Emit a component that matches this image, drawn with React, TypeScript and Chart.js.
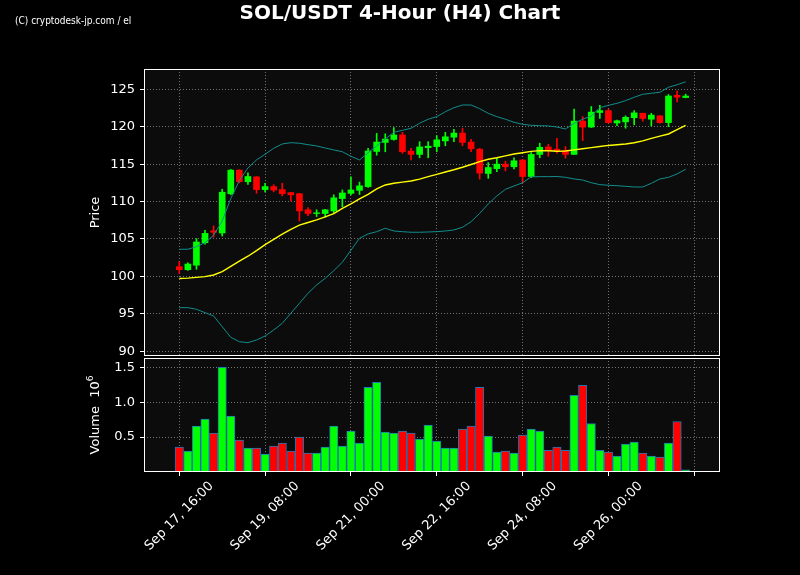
import React, { useEffect, useRef } from "react";
import { Chart, registerables } from "chart.js";

Chart.register(...registerables);

// ---- Data (4-hour candles, starting Sep 17 16:00) ----
const opens = [
  101.3, 100.9, 101.5, 104.5, 106.1, 105.8, 111.05, 114.2, 112.65, 113.3,
  111.6, 112.0, 111.6, 111.2, 111.05, 108.9, 108.4, 108.4, 108.75, 110.4,
  111.1, 111.5, 112.0, 116.7, 117.9, 118.3, 118.9, 116.75, 116.3, 117.2,
  117.35, 118.1, 118.6, 119.15, 117.95, 117.0, 113.75, 114.4, 115.0, 114.65,
  115.55, 113.35, 116.3, 117.3, 117.0, 116.85, 116.3, 120.75, 119.95, 121.9,
  122.15, 120.5, 120.65, 121.2, 121.8, 121.0, 121.45, 120.55, 124.2, 123.9,
];
const highs = [
  102.0, 101.8, 105.05, 106.15, 106.75, 111.65, 114.3, 114.25, 113.85, 113.35,
  112.45, 112.25, 112.45, 111.25, 111.1, 109.2, 108.9, 108.95, 110.9, 111.55,
  113.3, 112.6, 117.1, 119.1, 119.05, 119.9, 119.25, 117.1, 118.0, 118.0,
  118.8, 119.25, 119.65, 119.8, 118.3, 117.1, 115.2, 115.8, 115.4, 115.85,
  115.6, 116.55, 117.8, 117.65, 118.45, 117.35, 122.35, 121.35, 122.7, 122.85,
  122.35, 120.9, 121.45, 122.15, 121.8, 121.8, 121.5, 124.3, 124.8, 124.35,
];
const lows = [
  100.4, 100.8, 100.95, 104.3, 105.25, 105.4, 110.9, 112.5, 112.3, 111.1,
  111.3, 111.3, 110.75, 110.1, 107.4, 108.1, 108.0, 107.9, 108.45, 109.3,
  110.9, 110.95, 111.9, 116.2, 116.65, 118.2, 116.45, 115.55, 115.85, 115.85,
  116.65, 117.45, 118.0, 117.45, 116.65, 113.0, 113.1, 114.0, 114.1, 114.35,
  112.5, 113.2, 115.85, 116.05, 116.45, 115.8, 116.3, 118.15, 119.9, 121.1,
  120.5, 120.15, 119.8, 120.25, 120.75, 120.1, 120.46, 120.0, 123.3, 123.85,
];
const closes = [
  100.9, 101.65, 104.6, 105.75, 105.9, 111.25, 114.2, 112.65, 113.35, 111.6,
  112.0, 111.55, 111.05, 110.9, 108.75, 108.4, 108.5, 108.9, 110.5, 111.15,
  111.55, 112.1, 116.75, 117.95, 118.35, 118.9, 116.65, 116.3, 117.3, 117.4,
  118.25, 118.65, 119.15, 117.9, 117.05, 113.8, 114.55, 115.0, 114.65, 115.45,
  113.35, 116.3, 117.25, 116.85, 116.8, 116.3, 120.75, 119.95, 121.95, 122.15,
  120.55, 120.8, 121.25, 121.85, 121.1, 121.55, 120.55, 124.1, 123.95, 124.1,
];
// volume in units of 10^6
const volumes = [
  0.357, 0.3, 0.657, 0.757, 0.557, 1.5, 0.8, 0.457, 0.343, 0.343,
  0.257, 0.371, 0.414, 0.3, 0.5, 0.271, 0.271, 0.357, 0.657, 0.371,
  0.586, 0.414, 1.214, 1.286, 0.571, 0.557, 0.586, 0.557, 0.471, 0.671,
  0.443, 0.343, 0.343, 0.614, 0.657, 1.214, 0.514, 0.286, 0.3, 0.271,
  0.529, 0.614, 0.586, 0.309, 0.357, 0.309, 1.1, 1.243, 0.695, 0.309,
  0.286, 0.229, 0.4, 0.429, 0.271, 0.229, 0.214, 0.414, 0.724, 0.03,
];
const sma = [
  99.72, 99.78, 99.87, 99.97, 100.19, 100.65, 101.35, 102.05, 102.7, 103.45,
  104.25, 104.95, 105.65, 106.3, 106.85, 107.2, 107.55, 107.95, 108.4, 109.1,
  109.7, 110.35, 110.97, 111.7, 112.22, 112.44, 112.6, 112.75, 113.0, 113.33,
  113.64, 113.95, 114.25, 114.58, 114.95, 115.33, 115.65, 115.86, 116.1, 116.36,
  116.53, 116.7, 116.8, 116.78, 116.72, 116.75, 116.9, 117.05, 117.2, 117.35,
  117.5, 117.6, 117.7, 117.85, 118.1, 118.45, 118.75, 119.03, 119.6, 120.19,
];
const upperBand = [
  103.63, 103.63, 103.97, 104.51, 105.5, 107.4, 110.4, 112.8, 114.5, 115.56,
  116.32, 117.12, 117.69, 117.87, 117.79, 117.6, 117.43, 117.16, 116.9, 116.66,
  116.05, 115.56, 116.53, 117.43, 118.36, 119.26, 119.52, 119.79, 120.46, 121.0,
  121.34, 122.0, 122.54, 122.9, 122.9, 122.41, 121.79, 121.34, 121.0, 120.59,
  120.32, 120.19, 120.14, 120.1, 119.96, 119.7, 120.45, 121.0, 121.43, 122.54,
  122.86, 123.13, 123.48, 123.93, 124.33, 124.47, 124.6, 125.27, 125.61, 126.0,
];
const lowerBand = [
  95.83, 95.83, 95.61, 95.16, 94.72, 93.29, 91.87, 91.28, 91.15, 91.51,
  92.04, 92.85, 93.74, 95.08, 96.41, 97.75, 98.86, 99.75, 100.77, 101.9,
  103.5, 105.1, 105.67, 105.98, 106.43, 106.07, 105.98, 105.9, 105.9, 105.94,
  105.98, 106.07, 106.21, 106.57, 107.31, 108.43, 109.68, 110.75, 111.64, 112.08,
  112.52, 113.3, 113.33, 113.33, 113.35, 113.24, 113.02, 112.88, 112.52, 112.26,
  112.18, 112.12, 112.04, 111.95, 111.95, 112.44, 113.02, 113.24, 113.69, 114.31,
];
const xTickIdx = [0, 10, 20, 30, 40, 50, 60];
const xTickLabels = [
  "Sep 17, 16:00",
  "Sep 19, 08:00",
  "Sep 21, 00:00",
  "Sep 22, 16:00",
  "Sep 24, 08:00",
  "Sep 26, 00:00",
  "",
];
const priceTicks = [90, 95, 100, 105, 110, 115, 120, 125];
const volumeTicks = [0.5, 1.0, 1.5];

const GREEN = "#00ff00";
const RED = "#ff0000";
const FONT = "'DejaVu Sans', sans-serif";
const X_MIN = -4.11;
const X_MAX = 63.0;

const candleColors = closes.map((c, i) => (c >= opens[i] ? GREEN : RED));

const gridOpts = {
  color: "rgba(255,255,255,0.42)",
  lineWidth: 1,
  tickColor: "#ffffff",
  tickLength: 4,
  tickWidth: 1,
};

const panelPlugin = {
  id: "panel",
  beforeDraw(chart: any) {
    const { ctx, chartArea: a } = chart;
    ctx.save();
    ctx.fillStyle = "#0c0c0c";
    ctx.fillRect(a.left, a.top, a.right - a.left, a.bottom - a.top);
    ctx.restore();
  },
  afterDraw(chart: any) {
    const { ctx, chartArea: a } = chart;
    ctx.save();
    ctx.strokeStyle = "#ffffff";
    ctx.lineWidth = 1;
    ctx.strokeRect(a.left + 0.5, a.top + 0.5, a.right - a.left - 1, a.bottom - a.top - 1);
    const title = chart.options.plugins.panelTitle;
    if (title) {
      ctx.fillStyle = "#ffffff";
      ctx.translate(96, (a.top + a.bottom) / 2);
      ctx.rotate(-Math.PI / 2);
      ctx.textBaseline = "middle";
      ctx.font = `13px ${FONT}`;
      const mainW = ctx.measureText(title.text).width;
      let supW = 0;
      let baseW = 0;
      if (title.base) {
        baseW = ctx.measureText(title.base).width;
        ctx.font = `9px ${FONT}`;
        supW = ctx.measureText(title.sup).width;
        ctx.font = `13px ${FONT}`;
      }
      const total = mainW + baseW + supW;
      let x = -total / 2;
      ctx.textAlign = "left";
      ctx.fillText(title.text, x, 0);
      x += mainW;
      if (title.base) {
        ctx.fillText(title.base, x, 0);
        x += baseW;
        ctx.font = `9px ${FONT}`;
        ctx.fillText(title.sup, x, -5);
      }
    }
    ctx.restore();
  },
};

const xLabelPlugin = {
  id: "xlabels",
  afterDraw(chart: any) {
    const { ctx, chartArea: a } = chart;
    const xs = chart.scales.x;
    ctx.save();
    ctx.font = `13px ${FONT}`;
    ctx.fillStyle = "#ffffff";
    xTickIdx.forEach((v, k) => {
      const label = xTickLabels[k];
      if (!label) return;
      const px = xs.getPixelForValue(v);
      const w = ctx.measureText(label).width;
      const h = 13;
      const half = ((w + h) * Math.SQRT1_2) / 2;
      ctx.save();
      ctx.translate(px, a.bottom + 4 + 3.5 + half);
      ctx.rotate(-Math.PI / 4);
      ctx.textAlign = "center";
      ctx.textBaseline = "middle";
      ctx.fillText(label, 0, 0);
      ctx.restore();
    });
    ctx.restore();
  },
};

function xScale(height: number, ticksMarks: boolean) {
  return {
    type: "linear" as const,
    min: X_MIN,
    max: X_MAX,
    offset: false,
    afterBuildTicks: (s: any) => {
      s.ticks = xTickIdx.map((v) => ({ value: v }));
    },
    afterFit: (s: any) => {
      s.height = height;
    },
    ticks: { display: false },
    grid: { ...gridOpts, offset: false, drawTicks: ticksMarks },
    border: { display: false, dash: [1, 2] },
  };
}

export default function App() {
  const priceRef = useRef<HTMLCanvasElement>(null);
  const volRef = useRef<HTMLCanvasElement>(null);

  useEffect(() => {
    const idx = closes.map((_, i) => i);
    const priceChart = new Chart(priceRef.current as HTMLCanvasElement, {
      type: "bar",
      data: {
        datasets: [
          {
            type: "line",
            data: idx.map((i) => ({ x: i, y: upperBand[i] })),
            borderColor: "#128c8c",
            borderWidth: 1,
            pointRadius: 0,
            order: 1,
          },
          {
            type: "line",
            data: idx.map((i) => ({ x: i, y: lowerBand[i] })),
            borderColor: "#128c8c",
            borderWidth: 1,
            pointRadius: 0,
            order: 1,
          },
          {
            type: "line",
            data: idx.map((i) => ({ x: i, y: sma[i] })),
            borderColor: "#ffff00",
            borderWidth: 1.4,
            pointRadius: 0,
            order: 0,
          },
          {
            type: "bar",
            data: idx.map((i) => ({ x: i, y: [lows[i], highs[i]] })),
            backgroundColor: candleColors,
            barThickness: 1,
            borderWidth: 0,
            grouped: false,
            order: 3,
          },
          {
            type: "bar",
            data: idx.map((i) => ({ x: i, y: [opens[i], closes[i]] })),
            backgroundColor: candleColors,
            barThickness: 6,
            borderWidth: 0,
            grouped: false,
            order: 2,
          },
        ],
      } as any,
      options: {
        animation: false,
        responsive: false,
        devicePixelRatio: 1,
        events: [],
        layout: { padding: { left: 0, right: 80, top: 69, bottom: 219 } },
        plugins: {
          legend: { display: false },
          tooltip: { enabled: false },
          panelTitle: { text: "Price" },
        } as any,
        scales: {
          x: xScale(0, false) as any,
          y: {
            type: "linear",
            min: 89.37,
            max: 127.71,
            afterBuildTicks: (s: any) => {
              s.ticks = priceTicks.map((v) => ({ value: v }));
            },
            afterFit: (s: any) => {
              s.width = 144;
            },
            ticks: {
              color: "#ffffff",
              font: { family: FONT, size: 13 },
              padding: 5,
              callback: (v: any) => String(v),
            },
            grid: { ...gridOpts },
            border: { display: false, dash: [1, 2] },
          } as any,
        },
      },
      plugins: [panelPlugin],
    });

    const volChart = new Chart(volRef.current as HTMLCanvasElement, {
      type: "bar",
      data: {
        datasets: [
          {
            type: "bar",
            data: idx.map((i) => ({ x: i, y: volumes[i] })),
            backgroundColor: candleColors,
            borderColor: "#1f77b4",
            borderWidth: 1,
            borderSkipped: false,
            barThickness: 8.4,
            grouped: false,
          },
        ],
      } as any,
      options: {
        animation: false,
        responsive: false,
        devicePixelRatio: 1,
        events: [],
        layout: { padding: { left: 0, right: 80, top: 358, bottom: 0 } },
        plugins: {
          legend: { display: false },
          tooltip: { enabled: false },
          panelTitle: { text: "Volume  ", base: "10", sup: "6" },
        } as any,
        scales: {
          x: xScale(103, true) as any,
          y: {
            type: "linear",
            min: 0,
            max: 1.633,
            afterBuildTicks: (s: any) => {
              s.ticks = volumeTicks.map((v) => ({ value: v }));
            },
            afterFit: (s: any) => {
              s.width = 144;
            },
            ticks: {
              color: "#ffffff",
              font: { family: FONT, size: 13 },
              padding: 5,
              callback: (v: any) => Number(v).toFixed(1),
            },
            grid: { ...gridOpts },
            border: { display: false, dash: [1, 2] },
          } as any,
        },
      },
      plugins: [panelPlugin, xLabelPlugin],
    });

    return () => {
      priceChart.destroy();
      volChart.destroy();
    };
  }, []);

  const layer: React.CSSProperties = { position: "absolute", left: 0, top: 0 };
  return (
    <div
      style={{
        position: "absolute",
        left: 0,
        top: 0,
        width: 800,
        height: 575,
        background: "#000000",
        overflow: "hidden",
      }}
    >
      <canvas ref={priceRef} width={800} height={575} style={layer} />
      <canvas ref={volRef} width={800} height={575} style={layer} />
      <div
        style={{
          position: "absolute",
          left: 0,
          width: 800,
          top: -1,
          textAlign: "center",
          color: "#ffffff",
          fontFamily: FONT,
          fontWeight: "bold",
          fontSize: 20,
          lineHeight: "26px",
        }}
      >
        SOL/USDT 4-Hour (H4) Chart
      </div>
      <div
        style={{
          position: "absolute",
          left: 15,
          top: 15,
          color: "#ffffff",
          fontFamily: "'Liberation Sans Narrow', 'DejaVu Sans Condensed', sans-serif",
          fontStretch: "condensed",
          fontSize: 10,
          lineHeight: "12px",
          whiteSpace: "nowrap",
        }}
      >
        (C) cryptodesk-jp.com / el
      </div>
    </div>
  );
}
